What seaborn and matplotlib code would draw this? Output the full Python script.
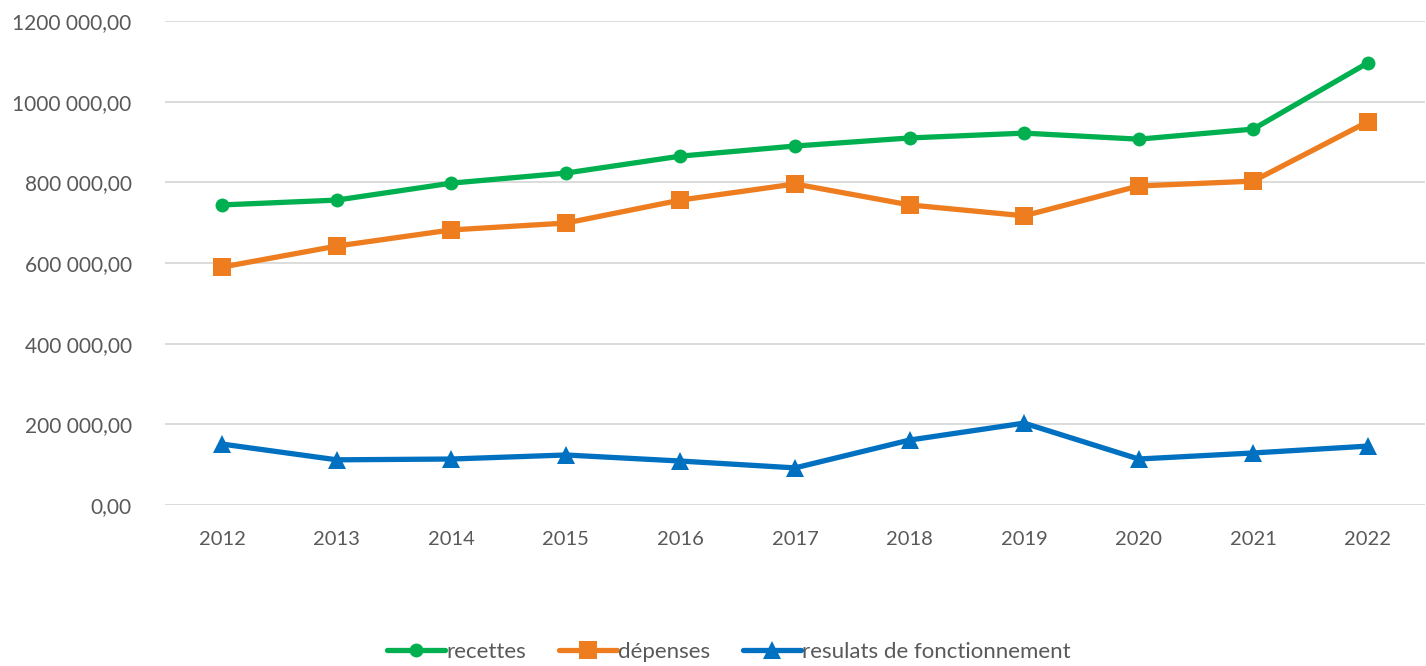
import matplotlib
matplotlib.use("Agg")
import matplotlib.pyplot as plt
import seaborn as sns
import pandas as pd
from matplotlib.ticker import FuncFormatter

years = [2012, 2013, 2014, 2015, 2016, 2017, 2018, 2019, 2020, 2021, 2022]
recettes = [744000, 756000, 798000, 823000, 865000, 890000, 910000, 922000, 907000, 932000, 1096000]
depenses = [590000, 642000, 682000, 699000, 756000, 796000, 744000, 717000, 791000, 803000, 950000]
resultats = [151000, 112000, 114000, 124000, 109000, 92000, 161000, 203000, 114000, 129000, 146000]
series_names = ["recettes", "dépenses", "resulats de fonctionnement"]

sns.set_theme(style="white")
plt.rcParams['font.family'] = ['Lato', 'DejaVu Sans']

df = pd.DataFrame({
    "x": list(range(len(years))) * 3,
    "value": recettes + depenses + resultats,
    "serie": [series_names[0]] * len(years) + [series_names[1]] * len(years) + [series_names[2]] * len(years),
})

colors = {"recettes": "#00B050", "dépenses": "#ED7D1F", "resulats de fonctionnement": "#0070C0"}
markers = {"recettes": "o", "dépenses": "s", "resulats de fonctionnement": "^"}
msizes = {"recettes": 10, "dépenses": 13, "resulats de fonctionnement": 13}

fig = plt.figure(figsize=(14.26, 6.66), dpi=100)
ax = fig.add_axes([165 / 1426, 161 / 666, 1260 / 1426, 484 / 666])

for name in series_names:
    sub = df[df["serie"] == name]
    sns.lineplot(data=sub, x="x", y="value", ax=ax, color=colors[name], linewidth=3.8,
                 marker=markers[name], markersize=msizes[name], markeredgewidth=0,
                 label=name, zorder=3)

ax.set_xlim(-0.5, len(years) - 0.5)
ax.set_ylim(0, 1200000)
ax.set_yticks(range(0, 1200001, 200000))
ax.set_xticks(range(len(years)))
ax.set_xticklabels([str(y) for y in years])

def fmt(v, pos):
    v = int(round(v))
    if v == 0:
        return "0,00"
    return f"{v // 1000} {v % 1000:03d},00"

ax.yaxis.set_major_formatter(FuncFormatter(fmt))
ax.grid(axis="y", color="#D9D9D9", linewidth=1.3, zorder=0)
ax.grid(axis="x", visible=False)
for s in ax.spines.values():
    s.set_visible(False)
ax.tick_params(axis="both", length=0, labelsize=14.5, labelcolor="#595959")
ax.tick_params(axis="x", labelsize=14.5)
ax.tick_params(axis="y", labelsize=15, pad=24)
ax.tick_params(axis="x", pad=19)
ax.set_xlabel("")
ax.set_ylabel("")

ax.legend(loc="center", bbox_to_anchor=((729 - 165) / 1260, (505 - 652) / 484), ncol=3,
          frameon=False, fontsize=16, labelcolor="#595959", handlelength=2.6,
          handletextpad=0.05, columnspacing=1.5, borderaxespad=0)

fig.savefig("out.png", dpi=100)
